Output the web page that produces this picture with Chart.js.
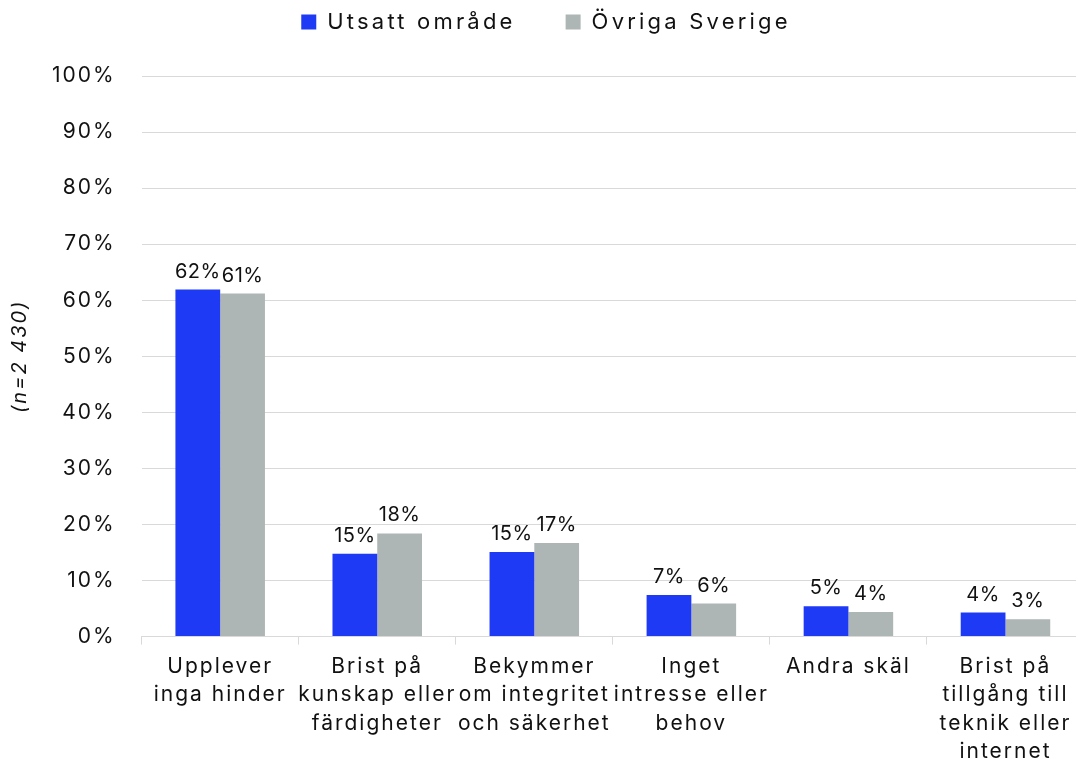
<!DOCTYPE html>
<html>
<head>
<meta charset="utf-8">
<script src="https://cdn.jsdelivr.net/npm/chart.js@4"></script>
<style>
  html, body { margin: 0; padding: 0; background: #fff; overflow: hidden; }
  #wrap { width: 1084px; height: 764px; }
</style>
</head>
<body>
<div id="wrap"><canvas id="myChart" width="1084" height="764"></canvas></div>
<script>
const categories = [
  ['Upplever', 'inga hinder'],
  ['Brist på', 'kunskap eller', 'färdigheter'],
  ['Bekymmer', 'om integritet', 'och säkerhet'],
  ['Inget', 'intresse eller', 'behov'],
  ['Andra skäl'],
  ['Brist på', 'tillgång till', 'teknik eller', 'internet'],
];
const seriesNames = ['Utsatt område', 'Övriga Sverige'];
const utsatt = [61.9, 14.8, 15.1, 7.4, 5.4, 4.3];
const ovriga = [61.2, 18.4, 16.7, 5.9, 4.4, 3.1];
const yTicks = [0, 10, 20, 30, 40, 50, 60, 70, 80, 90, 100];

const FONT = 'Inter, "Noto Sans", sans-serif';
const AXIS_SPACING = '2px';
const LEGEND_SPACING = '3.2px';

// letter spacing for axis and legend text, plus extra room under the legend
const spacing = {
  id: 'spacing',
  beforeUpdate(chart) { chart.ctx.letterSpacing = AXIS_SPACING; },
  beforeLayout(chart) {
    chart.ctx.letterSpacing = AXIS_SPACING;
    const lg = chart.legend;
    if (lg && !lg._patched) {
      lg._patched = true;
      const fit = lg.fit;
      const draw = lg.draw;
      lg.fit = function () {
        this.ctx.letterSpacing = LEGEND_SPACING;
        fit.call(this);
        this.ctx.letterSpacing = AXIS_SPACING;
        this.height += 33;
      };
      lg.draw = function () {
        this.ctx.letterSpacing = LEGEND_SPACING;
        draw.apply(this, arguments);
        this.ctx.letterSpacing = AXIS_SPACING;
      };
    }
  },
  beforeDraw(chart) { chart.ctx.letterSpacing = AXIS_SPACING; },
};

// draws the % labels above each bar
const barLabels = {
  id: 'barLabels',
  afterDatasetsDraw(chart) {
    const ctx = chart.ctx;
    ctx.save();
    ctx.letterSpacing = '0.5px';
    ctx.font = '20px ' + FONT;
    ctx.fillStyle = '#111';
    ctx.textAlign = 'center';
    ctx.textBaseline = 'bottom';
    chart.data.datasets.forEach((ds, i) => {
      chart.getDatasetMeta(i).data.forEach((bar, j) => {
        ctx.fillText(Math.round(ds.data[j]) + '%', bar.x, bar.y - 8);
      });
    });
    ctx.restore();
  },
};

const ctx = document.getElementById('myChart').getContext('2d');
const myChart = new Chart(ctx, {
  type: 'bar',
  data: {
    labels: categories,
    datasets: [
      {
        label: seriesNames[0],
        data: utsatt,
        backgroundColor: '#1f3af5',
        categoryPercentage: 0.57,
        barPercentage: 1,
      },
      {
        label: seriesNames[1],
        data: ovriga,
        backgroundColor: '#adb5b5',
        categoryPercentage: 0.57,
        barPercentage: 1,
      },
    ],
  },
  options: {
    responsive: false,
    animation: false,
    devicePixelRatio: 1,
    layout: { padding: { left: 8, right: 0, top: -39, bottom: -10 } },
    plugins: {
      legend: {
        position: 'top',
        labels: {
          color: '#111',
          font: { family: FONT, size: 22 },
          boxWidth: 15,
          boxHeight: 15,
          padding: 50,
        },
      },
      tooltip: { enabled: false },
    },
    scales: {
      x: {
        grid: { display: true, drawOnChartArea: false, offset: true, color: '#d9d9d9', tickLength: 8 },
        border: { color: '#d9d9d9' },
        ticks: {
          autoSkip: false,
          maxRotation: 0,
          color: '#111',
          padding: 8,
          font: { family: FONT, size: 21, lineHeight: 1.35 },
        },
      },
      y: {
        min: 0,
        max: 100,
        afterBuildTicks: (axis) => { axis.ticks = yTicks.map((v) => ({ value: v })); },
        grid: { color: '#d9d9d9', drawTicks: false },
        border: { display: false },
        ticks: {
          color: '#111',
          padding: 26,
          font: { family: FONT, size: 21 },
          callback: (v) => v + '%',
        },
        title: {
          display: true,
          text: '(n=2 430)',
          color: '#111',
          font: { family: FONT, size: 20, style: 'italic' },
          padding: { top: 0, bottom: -6 },
        },
      },
    },
  },
  plugins: [spacing, barLabels],
});
</script>
</body>
</html>
